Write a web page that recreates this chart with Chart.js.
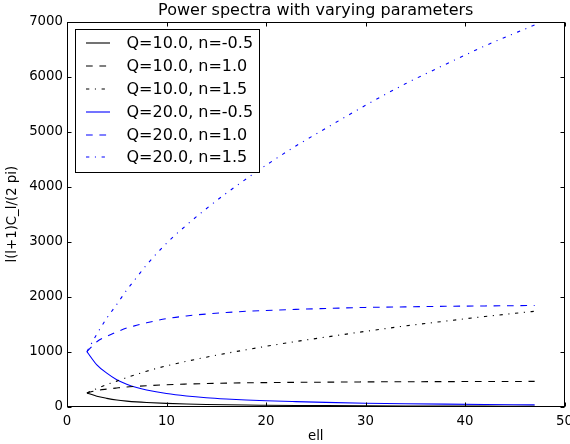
<!DOCTYPE html>
<html>
<head>
<meta charset="utf-8">
<script src="https://cdn.jsdelivr.net/npm/chart.js@4/dist/chart.umd.min.js"></script>
<style>
  html, body { margin: 0; padding: 0; background: #fff; }
  #chart { display: block; }
</style>
</head>
<body>
<canvas id="chart" width="570" height="444"></canvas>
<script>
'use strict';

// multipole values (x axis)
const ell = [2, 3, 4, 5, 6, 7, 8, 10, 12, 14, 16, 18, 20, 23, 26, 30, 34, 38, 42, 47];

const q10nm05 = [250, 190, 152, 122, 102, 87, 76, 60, 49, 41, 35, 30, 27, 23, 19.5, 16, 13.5, 11.5, 10, 8.5];
const q10n10  = [250, 295, 320, 340, 358, 370, 381, 400, 412, 421, 428, 434, 438, 443, 446, 451, 454, 456, 458, 460];
const q10n15  = [250, 330, 402, 465, 530, 588, 645, 743, 825, 900, 970, 1035, 1098, 1185, 1265, 1370, 1468, 1555, 1640, 1735];
const q20nm05 = [1000, 760, 610, 490, 410, 350, 305, 240, 195, 163, 140, 122, 108, 92, 78, 64, 54, 46, 40, 34];
const q20n10  = [1000, 1180, 1280, 1360, 1430, 1480, 1525, 1600, 1650, 1685, 1712, 1735, 1750, 1770, 1785, 1805, 1815, 1825, 1832, 1840];
const q20n15  = [1000, 1320, 1610, 1860, 2120, 2350, 2580, 2970, 3300, 3600, 3880, 4140, 4390, 4740, 5060, 5480, 5870, 6220, 6560, 6940];

const seriesLabels = ['Q=10.0, n=-0.5', 'Q=10.0, n=1.0', 'Q=10.0, n=1.5', 'Q=20.0, n=-0.5', 'Q=20.0, n=1.0', 'Q=20.0, n=1.5'];
const xTicks = [0, 10, 20, 30, 40, 50];
const yTicks = [0, 1000, 2000, 3000, 4000, 5000, 6000, 7000];

const FONT = '"DejaVu Sans", sans-serif';
const DASHED = [6.7, 6.7];
const DASHDOT = [3.3, 5.6, 1.1, 5.6];

const series = [
  { values: q10nm05, color: '#000000', dash: [] },
  { values: q10n10,  color: '#000000', dash: DASHED },
  { values: q10n15,  color: '#000000', dash: DASHDOT },
  { values: q20nm05, color: '#0000ff', dash: [] },
  { values: q20n10,  color: '#0000ff', dash: DASHED },
  { values: q20n15,  color: '#0000ff', dash: DASHDOT }
];

const datasets = series.map((s, i) => ({
  label: seriesLabels[i],
  data: s.values.map((v, k) => ({ x: ell[k], y: v })),
  borderColor: s.color,
  borderDash: s.dash,
  borderWidth: 1.1,
  pointRadius: 0,
  fill: false,
  cubicInterpolationMode: 'monotone'
}));

// frame, inward ticks on all four sides, titles
const frame = {
  id: 'frame',
  afterDraw(chart) {
    const { ctx, chartArea: a, scales: { x, y } } = chart;
    const L = Math.round(a.left) + 0.5, R = Math.round(a.right) - 0.5;
    const T = Math.round(a.top) + 0.5, B = Math.round(a.bottom) - 0.5;
    ctx.save();
    ctx.strokeStyle = '#000';
    ctx.lineWidth = 1;
    ctx.strokeRect(L, T, R - L, B - T);
    ctx.beginPath();
    xTicks.forEach(v => {
      const px = Math.round(x.getPixelForValue(v)) + 0.5;
      ctx.moveTo(px, B); ctx.lineTo(px, B - 4);
      ctx.moveTo(px, T); ctx.lineTo(px, T + 4);
    });
    yTicks.forEach(v => {
      const py = Math.round(y.getPixelForValue(v)) + 0.5;
      ctx.moveTo(L, py); ctx.lineTo(L + 4, py);
      ctx.moveTo(R, py); ctx.lineTo(R - 4, py);
    });
    ctx.stroke();

    ctx.fillStyle = '#000';
    ctx.textAlign = 'center';
    ctx.textBaseline = 'middle';
    const cx = (a.left + a.right) / 2;
    ctx.font = '16px ' + FONT;
    ctx.fillText('Power spectra with varying parameters', cx, 10.5);
    ctx.font = '13.3px ' + FONT;
    ctx.fillText('ell', cx, 437);
    ctx.translate(13, (a.top + a.bottom) / 2);
    ctx.rotate(-Math.PI / 2);
    ctx.fillText('l(l+1)C_l/(2 pi)', 0, 0);
    ctx.restore();
  }
};

// matplotlib style legend in the upper left corner
const boxLegend = {
  id: 'boxLegend',
  afterDraw(chart) {
    const ctx = chart.ctx;
    const left = 75.5, top = 29.5, width = 184, height = 143;
    ctx.save();
    ctx.fillStyle = '#fff';
    ctx.fillRect(left, top, width, height);
    ctx.strokeStyle = '#000';
    ctx.lineWidth = 1;
    ctx.strokeRect(left, top, width, height);
    ctx.font = '16px ' + FONT;
    ctx.textAlign = 'left';
    ctx.textBaseline = 'middle';
    chart.data.datasets.forEach((ds, i) => {
      const yy = Math.round(43.3 + i * 22.8);
      ctx.beginPath();
      ctx.setLineDash(ds.borderDash);
      ctx.strokeStyle = ds.borderColor;
      ctx.lineWidth = 1.1;
      ctx.moveTo(86, yy);
      ctx.lineTo(110, yy);
      ctx.stroke();
      ctx.setLineDash([]);
      ctx.fillStyle = '#000';
      ctx.fillText(ds.label, 126.5, yy + 1);
    });
    ctx.restore();
  }
};

function noPad(scale) {
  scale.paddingLeft = 0;
  scale.paddingRight = 0;
  scale.paddingTop = 0;
  scale.paddingBottom = 0;
}

new Chart(document.getElementById('chart'), {
  type: 'line',
  data: { datasets: datasets },
  plugins: [frame, boxLegend],
  options: {
    responsive: false,
    animation: false,
    devicePixelRatio: 1,
    layout: { padding: { top: 21.7, right: 5.5, left: 0, bottom: 0 } },
    plugins: { legend: { display: false }, title: { display: false }, tooltip: { enabled: false } },
    scales: {
      x: {
        type: 'linear',
        min: 0, max: 50,
        afterBuildTicks: s => { s.ticks = xTicks.map(v => ({ value: v })); },
        afterFit: s => { s.height = 37.3; noPad(s); },
        grid: { display: false, drawTicks: false },
        border: { display: false },
        ticks: { color: '#000', font: { family: FONT, size: 13.3 }, padding: 7, maxRotation: 0, autoSkip: false, callback: v => String(v) }
      },
      y: {
        type: 'linear',
        min: 0, max: 7000,
        afterBuildTicks: s => { s.ticks = yTicks.map(v => ({ value: v })); },
        afterFit: s => { s.width = 67; noPad(s); },
        grid: { display: false, drawTicks: false },
        border: { display: false },
        ticks: { color: '#000', font: { family: FONT, size: 13.3 }, padding: 4, callback: v => String(v) }
      }
    }
  }
});
</script>
</body>
</html>
